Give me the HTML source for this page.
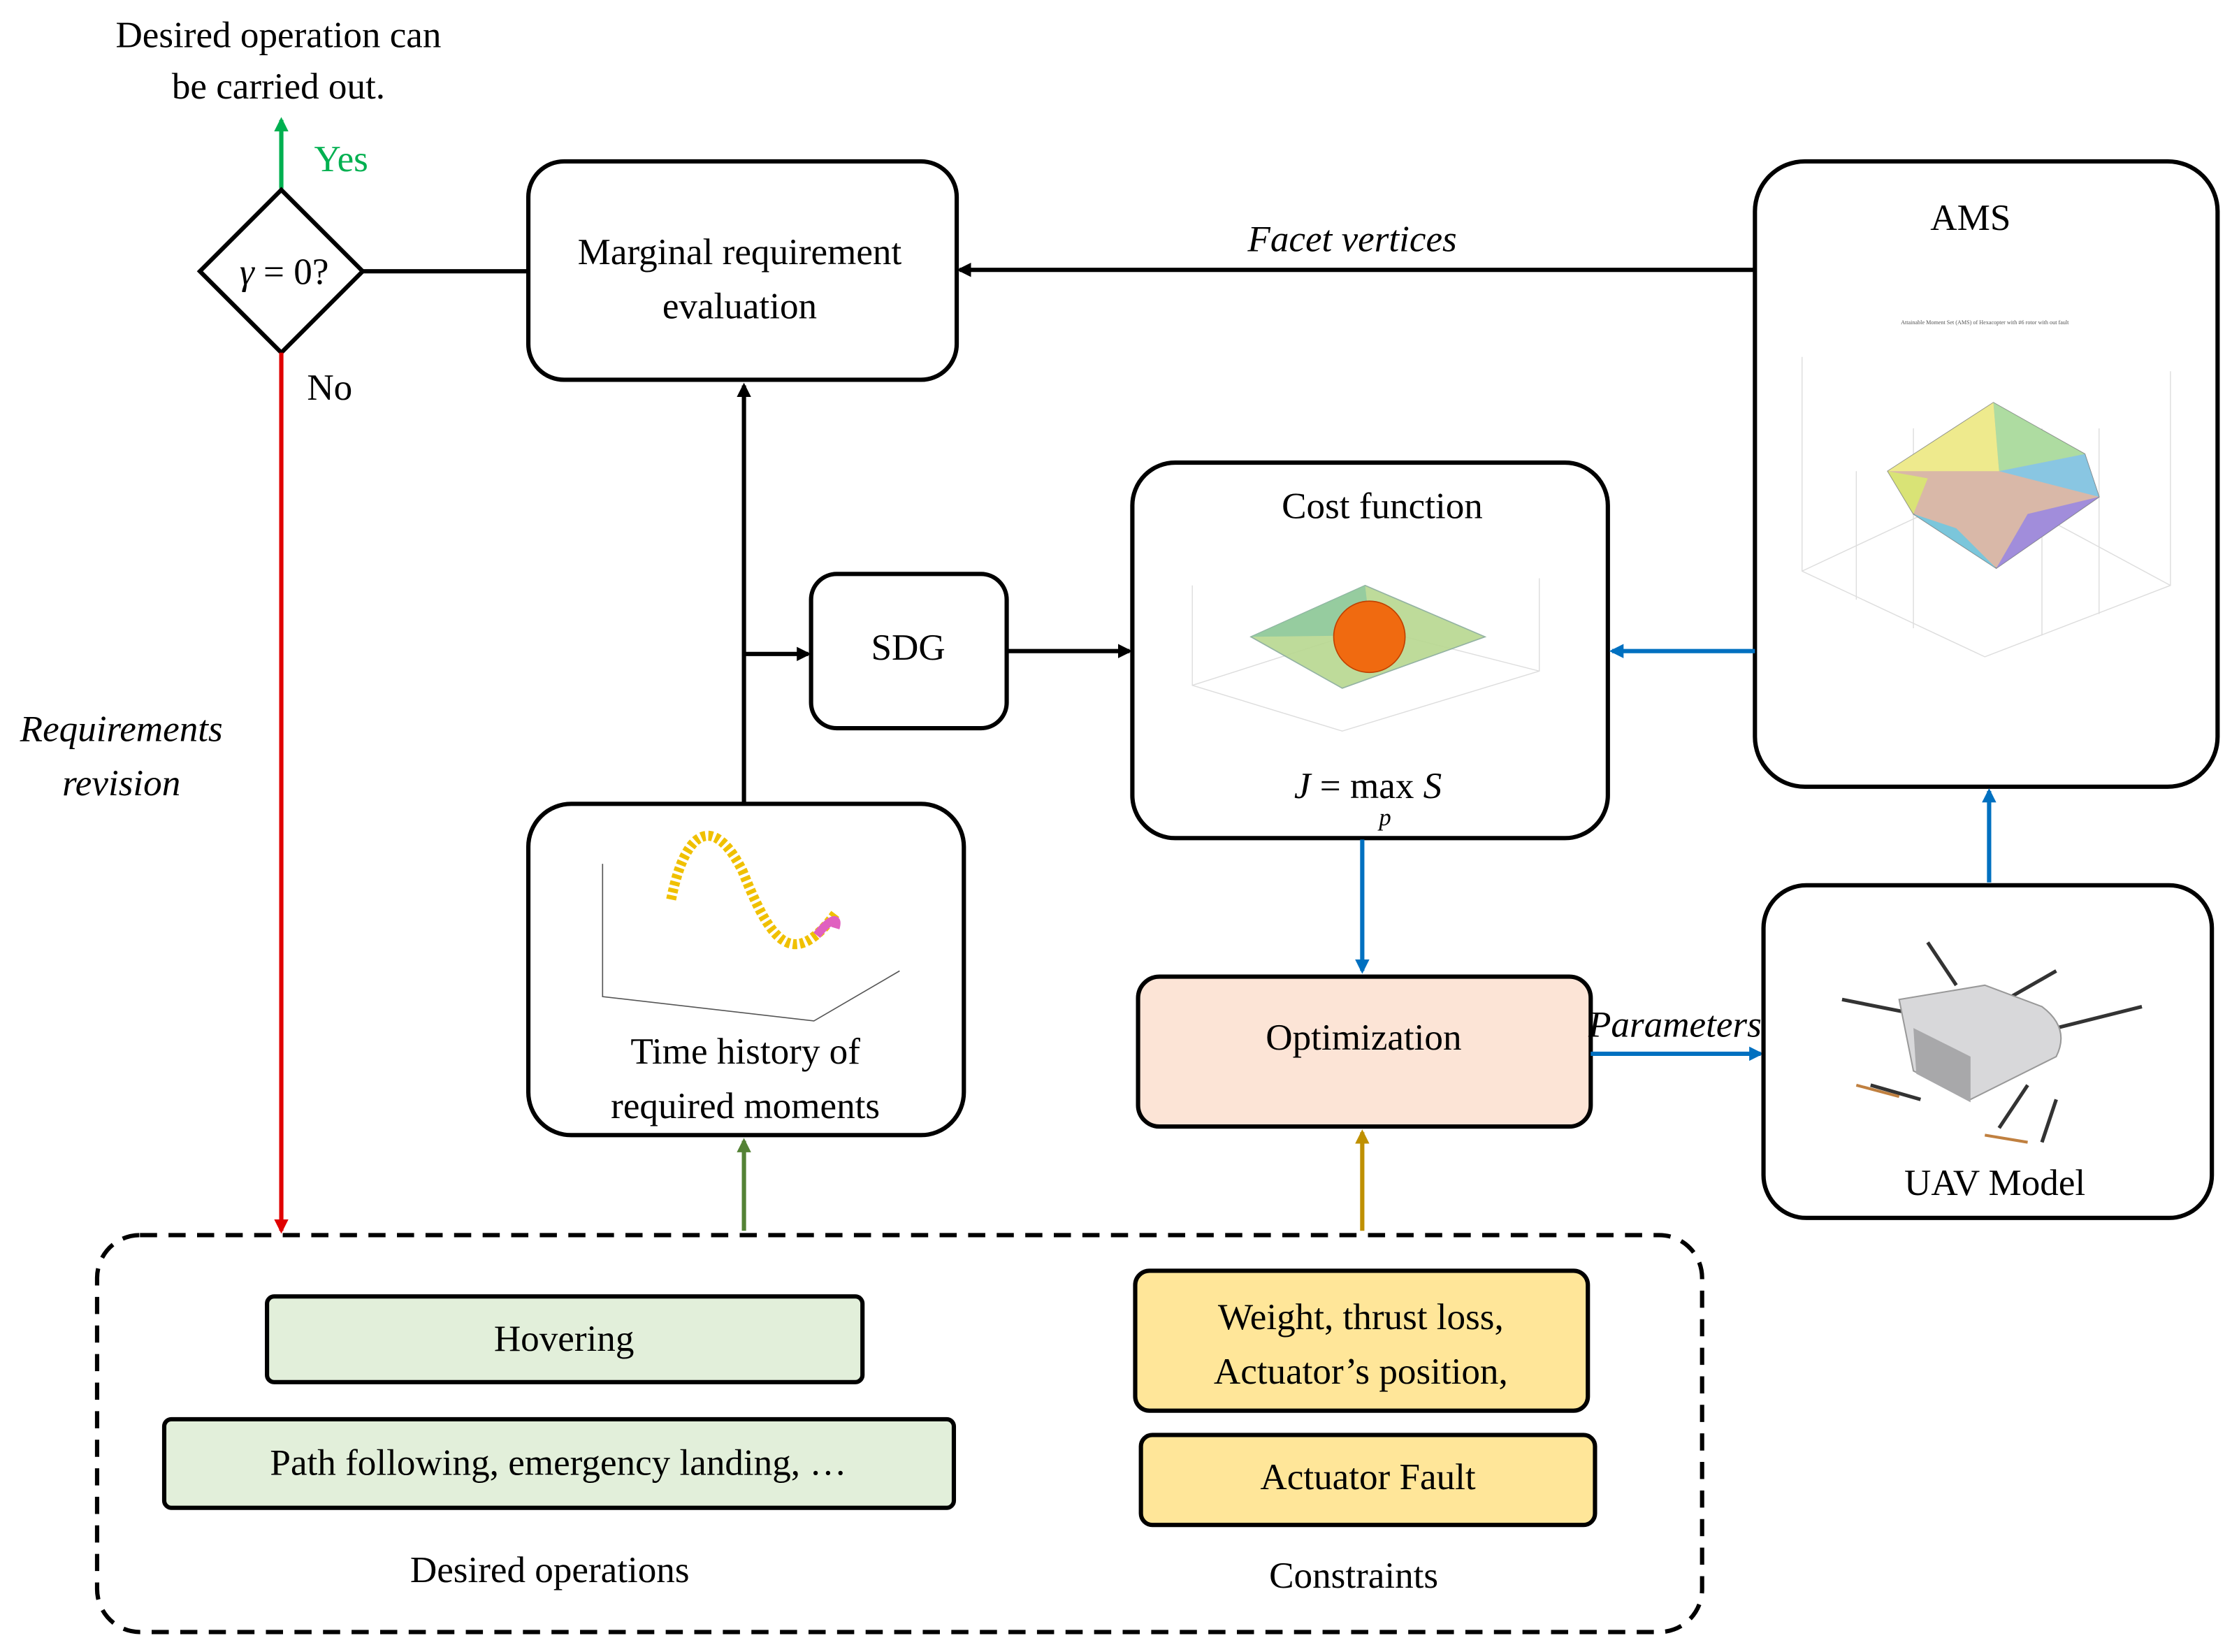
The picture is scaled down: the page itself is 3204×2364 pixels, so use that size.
<!DOCTYPE html>
<html><head><meta charset="utf-8"><style>html,body{margin:0;padding:0;background:#fff}svg{display:block}</style></head><body>
<svg width="3204" height="2364" viewBox="0 0 1568 1157" preserveAspectRatio="none" xmlns="http://www.w3.org/2000/svg" font-family="'Liberation Serif',serif" font-size="26">
<defs>
<marker id="ak" markerWidth="10" markerHeight="10" refX="8" refY="5" orient="auto" markerUnits="userSpaceOnUse"><path d="M0,0 L10,5 L0,10z" fill="#000"/></marker>
<marker id="ab" markerWidth="10" markerHeight="10" refX="8" refY="5" orient="auto" markerUnits="userSpaceOnUse"><path d="M0,0 L10,5 L0,10z" fill="#0070c0"/></marker>
<marker id="ar" markerWidth="10" markerHeight="10" refX="8" refY="5" orient="auto" markerUnits="userSpaceOnUse"><path d="M0,0 L10,5 L0,10z" fill="#e00000"/></marker>
<marker id="ag" markerWidth="10" markerHeight="10" refX="8" refY="5" orient="auto" markerUnits="userSpaceOnUse"><path d="M0,0 L10,5 L0,10z" fill="#00b050"/></marker>
<marker id="adg" markerWidth="10" markerHeight="10" refX="8" refY="5" orient="auto" markerUnits="userSpaceOnUse"><path d="M0,0 L10,5 L0,10z" fill="#548235"/></marker>
<marker id="ay" markerWidth="10" markerHeight="10" refX="8" refY="5" orient="auto" markerUnits="userSpaceOnUse"><path d="M0,0 L10,5 L0,10z" fill="#bf9000"/></marker>
</defs>
<g text-anchor="middle">
<text x="195" y="33">Desired operation can</text>
<text x="195" y="69">be carried out.</text>
</g>
<line x1="197" y1="132" x2="197" y2="84" stroke="#00b050" stroke-width="3" marker-end="url(#ag)"/>
<text x="220" y="120" fill="#00b050">Yes</text>
<polygon points="140,190 197,133 254,190 197,247" fill="#fff" stroke="#000" stroke-width="3"/>
<text x="199" y="199" text-anchor="middle"><tspan font-style="italic">γ</tspan> = 0?</text>
<line x1="254" y1="190" x2="370" y2="190" stroke="#000" stroke-width="3"/>
<rect x="370" y="113" width="300" height="153" rx="25" fill="#fff" stroke="#000" stroke-width="3"/>
<text x="518" y="185" text-anchor="middle">Marginal requirement</text>
<text x="518" y="223" text-anchor="middle">evaluation</text>
<text x="215" y="280">No</text>
<line x1="197" y1="247" x2="197" y2="862" stroke="#e00000" stroke-width="3" marker-end="url(#ar)"/>
<text x="85" y="519" text-anchor="middle" font-style="italic">Requirements</text>
<text x="85" y="557" text-anchor="middle" font-style="italic">revision</text>
<line x1="1229" y1="189" x2="672" y2="189" stroke="#000" stroke-width="3" marker-end="url(#ak)"/>
<text x="947" y="176" text-anchor="middle" font-style="italic">Facet vertices</text>
<rect x="1229" y="113" width="324" height="438" rx="35" fill="#fff" stroke="#000" stroke-width="3"/>
<text x="1380" y="161" text-anchor="middle">AMS</text>
<g stroke="#ddd" stroke-width="0.7" fill="none">
<path d="M1262,250 L1262,400 L1390,460 L1520,410 L1520,260"/><path d="M1262,400 L1390,340 L1520,410"/>
<path d="M1300,330 L1300,420 M1340,300 L1340,440 M1430,300 L1430,445 M1470,300 L1470,430"/>
</g>
<text x="1390" y="227" font-size="4" text-anchor="middle" fill="#555">Attainable Moment Set (AMS) of Hexacopter with #6 rotor with out fault</text>
<polygon points="1322,330 1396,282 1460,318 1470,348 1398,398 1340,360" fill="#d9b8a8" stroke="#888" stroke-width="0.8"/>
<polygon points="1322,330 1396,282 1400,330" fill="#f0f08a" opacity="0.9"/>
<polygon points="1396,282 1460,318 1400,330" fill="#a8e0a0" opacity="0.9"/>
<polygon points="1460,318 1470,348 1400,330" fill="#80c8e8" opacity="0.9"/>
<polygon points="1470,348 1398,398 1420,360" fill="#9a88e0" opacity="0.9"/>
<polygon points="1340,360 1398,398 1370,370" fill="#70c8e0" opacity="0.9"/>
<polygon points="1322,330 1340,360 1350,335" fill="#d8e870" opacity="0.9"/>
<rect x="793" y="324" width="333" height="263" rx="30" fill="#fff" stroke="#000" stroke-width="3"/>
<text x="968" y="363" text-anchor="middle">Cost function</text>
<g stroke="#ddd" stroke-width="0.7" fill="none"><path d="M835,410 L835,480 L940,512 L1078,470 L1078,405"/><path d="M835,480 L960,440 L1078,470"/></g>
<polygon points="876,446 956,410 1040,446 940,482" fill="#b8d890" stroke="#8a9" stroke-width="0.8" opacity="0.9"/>
<polygon points="876,446 956,410 960,445" fill="#8cc8a0" opacity="0.8"/>
<circle cx="959" cy="446" r="25" fill="#f06a10" stroke="#c04000" stroke-width="0.8"/>
<text x="958" y="559" text-anchor="middle" font-style="italic">J <tspan font-style="normal">= max</tspan>  S</text>
<text x="970" y="578" text-anchor="middle" font-style="italic" font-size="17">p</text>
<rect x="568" y="402" width="137" height="108" rx="18" fill="#fff" stroke="#000" stroke-width="3"/>
<text x="636" y="462" text-anchor="middle">SDG</text>
<line x1="521" y1="562" x2="521" y2="270" stroke="#000" stroke-width="3" marker-end="url(#ak)"/>
<line x1="521" y1="458" x2="566" y2="458" stroke="#000" stroke-width="3" marker-end="url(#ak)"/>
<line x1="705" y1="456" x2="791" y2="456" stroke="#000" stroke-width="3" marker-end="url(#ak)"/>
<line x1="1229" y1="456" x2="1129" y2="456" stroke="#0070c0" stroke-width="3" marker-end="url(#ab)"/>
<rect x="370" y="563" width="305" height="232" rx="30" fill="#fff" stroke="#000" stroke-width="3"/>
<g stroke="#555" stroke-width="0.8" fill="none"><path d="M422,605 L422,698 L570,715 L630,680"/></g>
<path d="M470,630 C480,580 500,570 520,610 C540,660 555,680 585,640" stroke="#f0c000" stroke-width="7" fill="none" stroke-dasharray="3,2"/>
<path d="M572,655 C580,645 588,640 585,650" stroke="#e060c0" stroke-width="6" fill="none"/>
<text x="522" y="745" text-anchor="middle">Time history of</text>
<text x="522" y="783" text-anchor="middle">required moments</text>
<line x1="954" y1="588" x2="954" y2="680" stroke="#0070c0" stroke-width="3" marker-end="url(#ab)"/>
<rect x="797" y="684" width="317" height="105" rx="15" fill="#fce4d6" stroke="#000" stroke-width="3"/>
<text x="955" y="735" text-anchor="middle">Optimization</text>
<text x="1173" y="726" text-anchor="middle" font-style="italic">Parameters</text>
<line x1="1114" y1="738" x2="1233" y2="738" stroke="#0070c0" stroke-width="3" marker-end="url(#ab)"/>
<rect x="1235" y="620" width="314" height="233" rx="30" fill="#fff" stroke="#000" stroke-width="3"/>
<g stroke="#333" stroke-width="2.5">
<line x1="1290" y1="700" x2="1340" y2="710"/><line x1="1350" y1="660" x2="1370" y2="690"/><line x1="1440" y1="680" x2="1405" y2="700"/><line x1="1500" y1="705" x2="1440" y2="720"/>
<line x1="1310" y1="760" x2="1345" y2="770"/><line x1="1400" y1="790" x2="1420" y2="760"/><line x1="1430" y1="800" x2="1440" y2="770"/>
</g>
<path d="M1330,700 L1390,690 L1430,705 Q1450,720 1440,740 L1380,770 L1340,750 Z" fill="#d8d8da" stroke="#999"/>
<path d="M1340,720 L1380,740 L1380,772 L1342,752 Z" fill="#a8a8aa"/>
<g stroke="#c08040" stroke-width="2"><line x1="1300" y1="760" x2="1330" y2="768"/><line x1="1390" y1="795" x2="1420" y2="800"/></g>
<text x="1397" y="837" text-anchor="middle">UAV Model</text>
<line x1="1393" y1="618" x2="1393" y2="554" stroke="#0070c0" stroke-width="3" marker-end="url(#ab)"/>
<line x1="521" y1="862" x2="521" y2="799" stroke="#548235" stroke-width="3" marker-end="url(#adg)"/>
<line x1="954" y1="862" x2="954" y2="793" stroke="#bf9000" stroke-width="3" marker-end="url(#ay)"/>
<rect x="68" y="865" width="1124" height="278" rx="30" fill="none" stroke="#000" stroke-width="3" stroke-dasharray="12,8"/>
<rect x="187" y="908" width="417" height="60" rx="5" fill="#e2efda" stroke="#000" stroke-width="3"/>
<text x="395" y="946" text-anchor="middle">Hovering</text>
<rect x="115" y="994" width="553" height="62" rx="5" fill="#e2efda" stroke="#000" stroke-width="3"/>
<text x="391" y="1033" text-anchor="middle">Path following, emergency landing, …</text>
<rect x="795" y="890" width="317" height="98" rx="10" fill="#ffe699" stroke="#000" stroke-width="3"/>
<text x="953" y="931" text-anchor="middle">Weight, thrust loss,</text>
<text x="953" y="969" text-anchor="middle">Actuator’s position,</text>
<rect x="799" y="1005" width="318" height="63" rx="8" fill="#ffe699" stroke="#000" stroke-width="3"/>
<text x="958" y="1043" text-anchor="middle">Actuator Fault</text>
<text x="385" y="1108" text-anchor="middle">Desired operations</text>
<text x="948" y="1112" text-anchor="middle">Constraints</text>
</svg>
</body></html>
